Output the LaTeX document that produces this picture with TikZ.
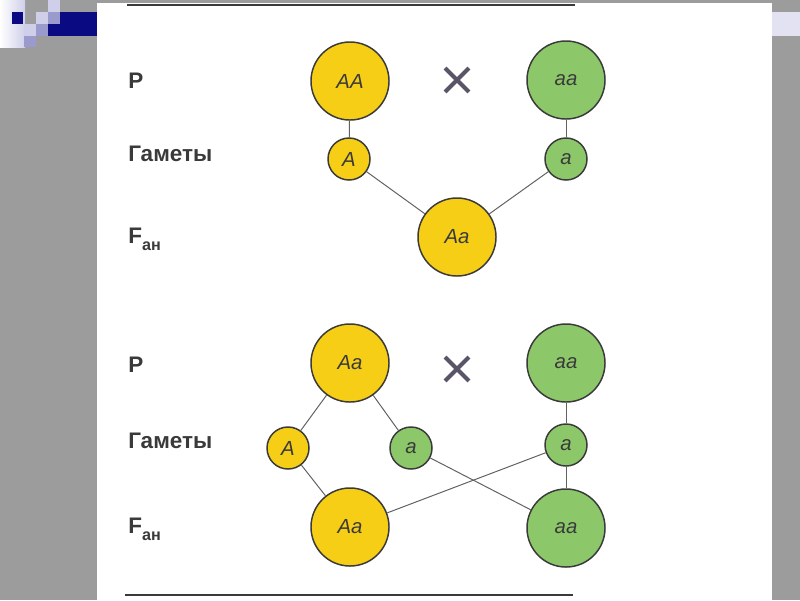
\documentclass[tikz,border=0pt]{standalone}
\usepackage{fontspec}
\setmainfont{Liberation Sans}
\usetikzlibrary{shapes.misc}
\definecolor{slidegray}{HTML}{9C9C9C}
\definecolor{navyband}{HTML}{0A0A82}
\definecolor{lav}{HTML}{9A9ACC}
\definecolor{lavlight}{HTML}{CFCFEA}
\definecolor{domyellow}{HTML}{F6CE16}
\definecolor{recgreen}{HTML}{8CC86A}
\definecolor{inkgray}{HTML}{3A3A3A}
\definecolor{crossgray}{HTML}{5A5468}

\begin{document}
\begin{tikzpicture}[x=0.025cm,y=-0.025cm,
  big/.style={circle,draw=inkgray,line width=1.05pt,minimum size=1.95cm,inner sep=0pt,
    font=\fontsize{14.5}{16}\selectfont\itshape,text=inkgray},
  small/.style={circle,draw=inkgray,line width=1.05pt,minimum size=1.05cm,inner sep=0pt,
    font=\fontsize{14.5}{16}\selectfont\itshape,text=inkgray},
  yel/.style={fill=domyellow},
  grn/.style={fill=recgreen},
  lbl/.style={anchor=base west,inner sep=0pt,text=inkgray,
    font=\fontsize{16}{19}\selectfont\bfseries},
  cross/.style={cross out,draw=crossgray,line width=2.8pt,minimum size=0.5cm,inner sep=0pt},
  link/.style={draw=inkgray!80,line width=0.7pt}]
  % slide background
  \fill[slidegray] (0,0) rectangle (800,600);
  \useasboundingbox (0,0) rectangle (800,600);
  \shade[left color=white,right color=lavlight] (0,0) rectangle (25,47);
  \fill[navyband] (12,12) rectangle (23,24);
  \fill[lavlight] (48,0) rectangle (60,12);
  \fill[lavlight] (36,12) rectangle (48,24);
  \fill[lav] (48,12) rectangle (60,24);
  \fill[lavlight] (24,24) rectangle (36,36);
  \fill[lav] (36,24) rectangle (48,36);
  \fill[lav] (24,36) rectangle (36,47);
  \fill[navyband] (60,12) rectangle (97,36);
  \fill[navyband] (48,24) rectangle (60,36);
  \fill[lavlight!60] (772,12) rectangle (800,36);
  % page
  \fill[white] (97,3) rectangle (772,600);
  \draw[inkgray,line width=0.8pt] (127,5) -- (575,5);
  \draw[inkgray,line width=0.8pt] (125,595) -- (573,595);

  % first cross AA x aa
  \node[lbl] (lblP1) at (128,88) {Р};
  \node[lbl] (lblG1) at (128,161) {Гаметы};
  \node[lbl] (lblF1) at (128,243) {F\raisebox{-0.35em}{\fontsize{11.5}{13}\selectfont ан}};

  \node[big,yel] (AA) at (350,81) {AA};
  \node[cross] (x1) at (457,80) {};
  \node[big,grn] (aa) at (566,80) {aa};
  \node[small,yel] (gA) at (349,159) {A};
  \node[small,grn] (ga) at (566,159) {a};
  \node[big,yel] (Aa) at (457,237) {Aa};

  \draw[link] (AA) -- (gA);
  \draw[link] (aa) -- (ga);
  \draw[link] (gA) -- (Aa);
  \draw[link] (ga) -- (Aa);

  % second cross Aa x aa
  \node[lbl] (lblP2) at (128,372) {Р};
  \node[lbl] (lblG2) at (128,448) {Гаметы};
  \node[lbl] (lblF2) at (128,533) {F\raisebox{-0.35em}{\fontsize{11.5}{13}\selectfont ан}};

  \node[big,yel] (pAa) at (350,363) {Aa};
  \node[cross] (x2) at (457,369) {};
  \node[big,grn] (paa) at (566,363) {aa};
  \node[small,yel] (hA) at (288,448) {A};
  \node[small,grn] (ha) at (411,448) {a};
  \node[small,grn] (hb) at (566,445) {a};
  \node[big,yel] (fAa) at (350,527) {Aa};
  \node[big,grn] (faa) at (566,528) {aa};

  \draw[link] (pAa) -- (hA);
  \draw[link] (pAa) -- (ha);
  \draw[link] (paa) -- (hb);
  \draw[link] (hA) -- (fAa);
  \draw[link] (hb) -- (fAa);
  \draw[link] (ha) -- (faa);
  \draw[link] (hb) -- (faa);
\end{tikzpicture}
\end{document}
